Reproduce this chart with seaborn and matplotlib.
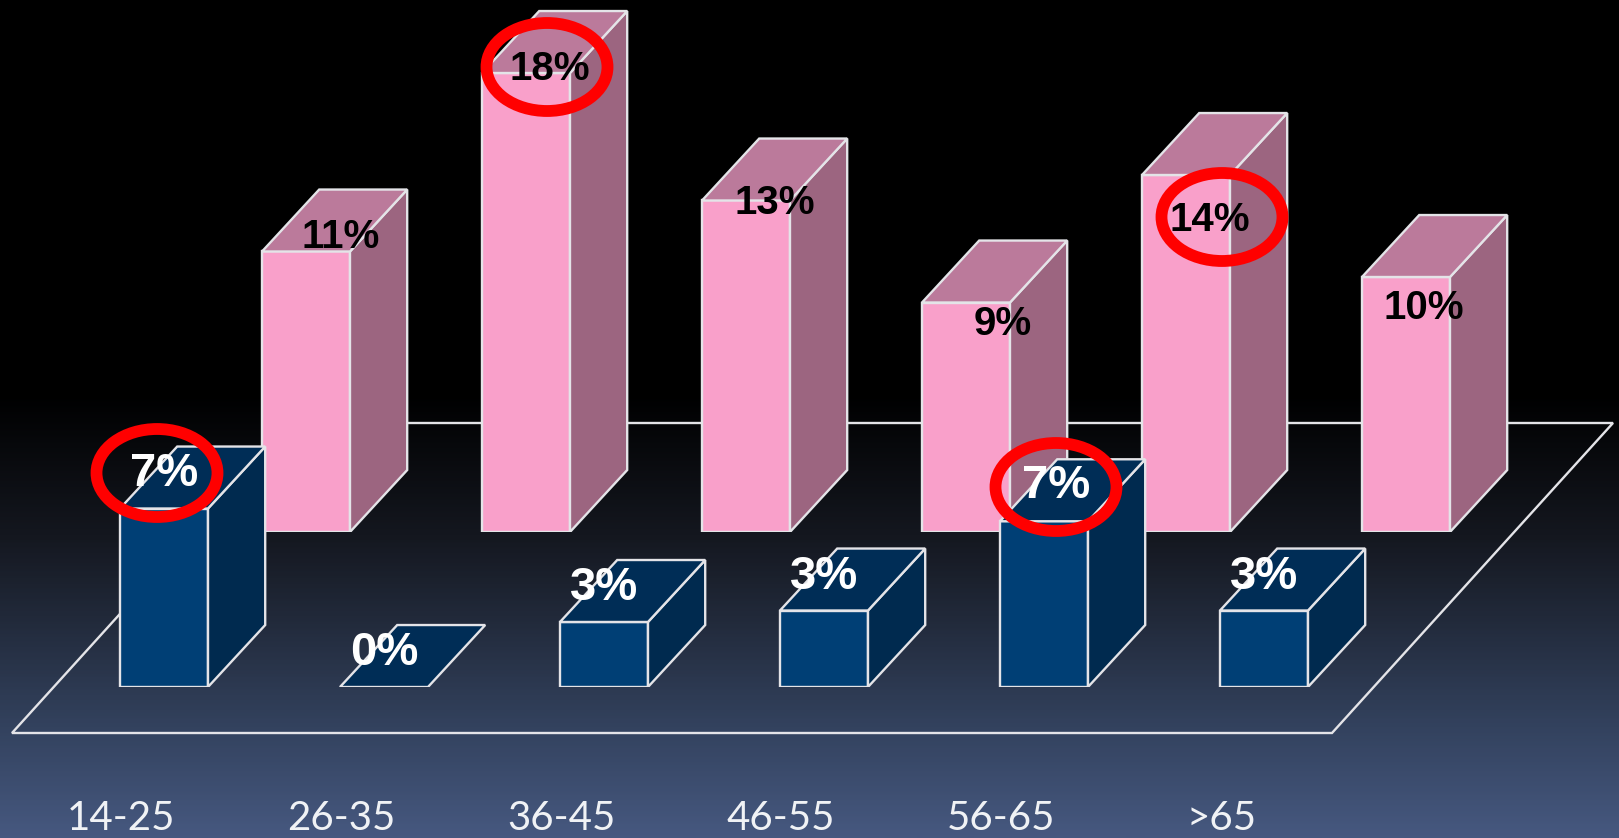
import numpy as np
import matplotlib
matplotlib.use("Agg")
import matplotlib.pyplot as plt
from matplotlib.colors import LinearSegmentedColormap
from matplotlib.patches import Ellipse, Polygon
import seaborn as sns

age_groups = ["14-25", "26-35", "36-45", "46-55", "56-65", ">65"]
back_values = [11, 18, 13, 9, 14, 10]
front_values = [7, 0, 2.55, 3, 6.5, 3]
back_labels = ["11%", "18%", "13%", "9%", "14%", "10%"]
front_labels = ["7%", "0%", "3%", "3%", "7%", "3%"]

# label offsets from the centre of the bar top, in pixels
back_offsets = [(35, 15), (24, 4), (29, -2), (37, -21), (24, -45), (18, -31)]
front_offsets = [(0, 35), (0, 34), (0, 34), (0, 34), (12, 35), (0, 34)]

WIDTH, HEIGHT = 1619, 838
SPACING = 220.0   # px between categories
UNIT = 25.5       # px per percent
DEPTH_X = 0.26    # 3d depth in category units
DEPTH_Y = 2.43    # 3d depth in percent units
LINE = "#e4e4e8"

sns.set_theme(style="white")
plt.rcParams["font.family"] = ["Liberation Sans", "DejaVu Sans"]

fig = plt.figure(figsize=(WIDTH / 100, HEIGHT / 100), dpi=100, facecolor="black")

# background and floor, in pixel coordinates
bg = fig.add_axes([0, 0, 1, 1])
cmap = LinearSegmentedColormap.from_list(
    "bg", [(0, "#000000"), (0.47, "#000000"), (0.64, "#14171f"), (0.87, "#33425e"), (1, "#46587f")])
bg.imshow(np.linspace(0, 1, 400).reshape(-1, 1), cmap=cmap, aspect="auto",
          extent=(0, WIDTH, HEIGHT, 0), vmin=0, vmax=1)
bg.add_patch(Polygon([(12, 733), (1332, 733), (1613, 423), (293, 423)], closed=True,
                     fill=False, edgecolor=LINE, linewidth=1.7))
bg.set_xlim(0, WIDTH)
bg.set_ylim(HEIGHT, 0)
bg.axis("off")


def draw_bars(values, labels, offsets, first_x, base_y, colors, text_color, text_size):
    ax = fig.add_axes([0, (HEIGHT - base_y) / HEIGHT, 1, base_y / HEIGHT])
    ax.patch.set_alpha(0)
    sns.barplot(x=age_groups, y=values, color=colors[0], saturation=1, width=0.4,
                edgecolor=LINE, linewidth=1.7, ax=ax)
    ax.set_xlim(-first_x / SPACING, (WIDTH - first_x) / SPACING)
    ax.set_ylim(0, base_y / UNIT)

    for bar, label, off in zip(ax.patches, labels, offsets):
        x0, x1 = bar.get_x(), bar.get_x() + bar.get_width()
        h = bar.get_height()
        side = [(x1, 0), (x1 + DEPTH_X, DEPTH_Y), (x1 + DEPTH_X, h + DEPTH_Y), (x1, h)]
        top = [(x0, h), (x0 + DEPTH_X, h + DEPTH_Y), (x1 + DEPTH_X, h + DEPTH_Y), (x1, h)]
        if h > 0:
            ax.add_patch(Polygon(side, closed=True, facecolor=colors[1],
                                 edgecolor=LINE, linewidth=1.7))
        ax.add_patch(Polygon(top, closed=True, facecolor=colors[2],
                             edgecolor=LINE, linewidth=1.7))
        ax.annotate(label, xy=((x0 + x1) / 2, h), xytext=(off[0] * 0.72, off[1] * 0.72),
                    textcoords="offset points", ha="center", va="center",
                    fontsize=text_size, fontweight="bold", color=text_color,
                    family="Liberation Sans")
    sns.despine(ax=ax, left=True, bottom=True)
    ax.set_ylabel("")
    ax.set_yticks([])
    return ax


back_ax = draw_bars(back_values, back_labels, back_offsets, 306, 532,
                    ("#f9a0ca", "#9c6580", "#bb7a9b"), "black", 29)
back_ax.set_xticks([])

front_ax = draw_bars(front_values, front_labels, front_offsets, 164, 687,
                     ("#003f75", "#002a4f", "#002d56"), "white", 34)
front_ax.set_xticks(np.arange(len(age_groups)) - 0.195, age_groups)
front_ax.tick_params(axis="x", length=0, pad=81, labelsize=29, labelcolor="#f0f2f5")
for tick in front_ax.get_xticklabels():
    tick.set_family("Lato")

# red circles around the highlighted labels
overlay = fig.add_axes([0, 0, 1, 1])
overlay.patch.set_alpha(0)
overlay.set_xlim(0, WIDTH)
overlay.set_ylim(HEIGHT, 0)
overlay.axis("off")
for cx, cy in [(157, 473), (547, 67), (1222, 217), (1056, 487)]:
    overlay.add_patch(Ellipse((cx, cy), 121, 88, fill=False, edgecolor="#ff0000", linewidth=8.5))

fig.savefig("out.png", dpi=100, facecolor=fig.get_facecolor())
